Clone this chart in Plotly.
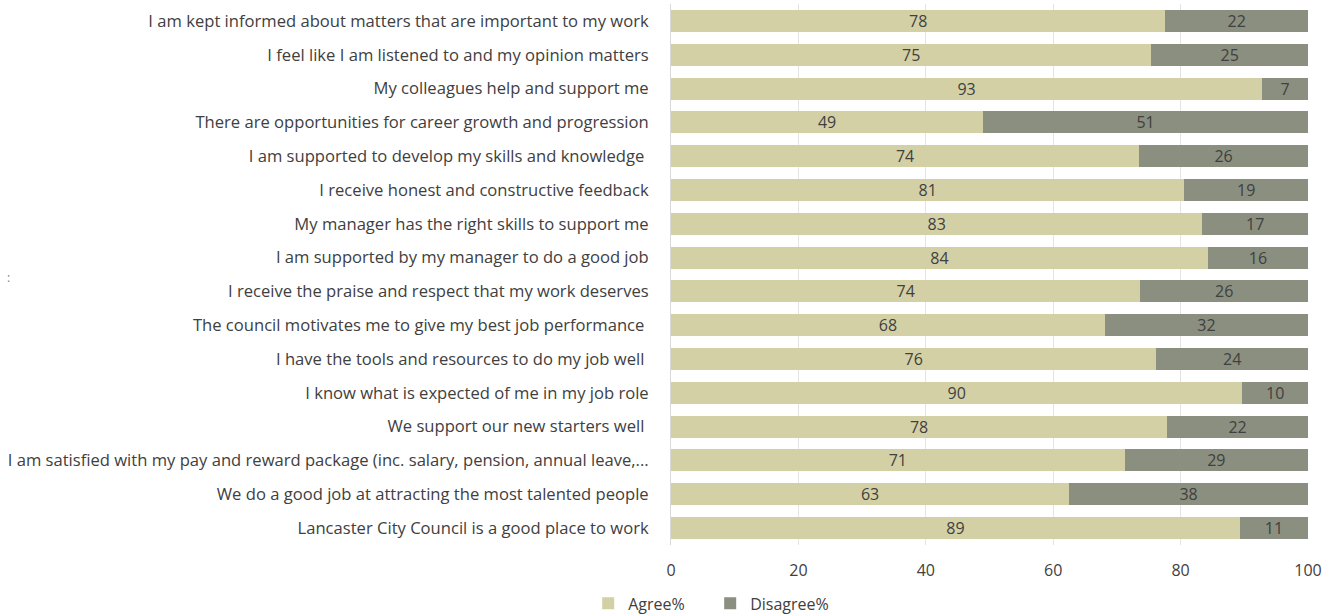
import plotly.graph_objects as go

categories = [
    "I am kept informed about matters that are important to my work",
    "I feel like I am listened to and my opinion matters",
    "My colleagues help and support me",
    "There are opportunities for career growth and progression",
    "I am supported to develop my skills and knowledge ",
    "I receive honest and constructive feedback",
    "My manager has the right skills to support me",
    "I am supported by my manager to do a good job",
    "I receive the praise and respect that my work deserves",
    "The council motivates me to give my best job performance ",
    "I have the tools and resources to do my job well ",
    "I know what is expected of me in my job role",
    "We support our new starters well ",
    "I am satisfied with my pay and reward package (inc. salary, pension, annual leave,...",
    "We do a good job at attracting the most talented people",
    "Lancaster City Council is a good place to work",
]
agree = [77.6, 75.4, 92.8, 49.0, 73.5, 80.6, 83.4, 84.3, 73.7, 68.1, 76.2, 89.7, 77.9, 71.2, 62.5, 89.3]
disagree = [22.4, 24.6, 7.2, 51.0, 26.5, 19.4, 16.6, 15.7, 26.3, 31.9, 23.8, 10.3, 22.1, 28.8, 37.5, 10.7]
agree_labels = ["78", "75", "93", "49", "74", "81", "83", "84", "74", "68", "76", "90", "78", "71", "63", "89"]
disagree_labels = ["22", "25", "7", "51", "26", "19", "17", "16", "26", "32", "24", "10", "22", "29", "38", "11"]
x_ticks = [0, 20, 40, 60, 80, 100]

FONT = "Open Sans"
TXT = "#404040"

fig = go.Figure()
fig.add_trace(go.Bar(
    y=categories, x=agree, orientation="h", name="Agree%",
    marker=dict(color="#D4D0A6", line=dict(width=0)),
    text=agree_labels, textposition="inside", insidetextanchor="middle",
    constraintext="none",
    textfont=dict(family=FONT, size=16, color=TXT), textangle=0,
))
fig.add_trace(go.Bar(
    y=categories, x=disagree, orientation="h", name="Disagree%",
    marker=dict(color="#8A8F7F", line=dict(width=0)),
    text=disagree_labels, textposition="inside", insidetextanchor="middle",
    constraintext="none",
    textfont=dict(family=FONT, size=16, color=TXT), textangle=0,
))

fig.update_layout(
    barmode="stack",
    bargap=0.35,
    width=1341, height=614,
    margin=dict(l=671, r=33, t=4, b=69, autoexpand=False),
    paper_bgcolor="white", plot_bgcolor="white",
    font=dict(family=FONT, size=16, color=TXT),
    legend=dict(orientation="h", x=-0.13, xanchor="left", y=-0.108, yanchor="middle",
                font=dict(family=FONT, size=16, color=TXT),
                itemwidth=30, entrywidth=77, traceorder="normal"),
    xaxis=dict(range=[0, 100], tickvals=x_ticks, showgrid=True, gridcolor="#E4E4E4",
               gridwidth=1, zeroline=False, showline=False, ticks="", automargin=False,
               ticklabelstandoff=14,
               tickfont=dict(family=FONT, size=16, color=TXT), layer="above traces"),
    yaxis=dict(autorange="reversed", showline=True, linecolor="#D9D9D9", linewidth=1,
               ticks="", automargin=False, ticklabelstandoff=18,
               tickfont=dict(family=FONT, size=16.6, color=TXT)),
)
fig.add_annotation(text=":", x=-1.046, y=0.494, xref="paper", yref="paper",
                   xanchor="left", yanchor="middle", showarrow=False,
                   font=dict(family=FONT, size=12, color="#808080"))

fig.write_html("out.html")
